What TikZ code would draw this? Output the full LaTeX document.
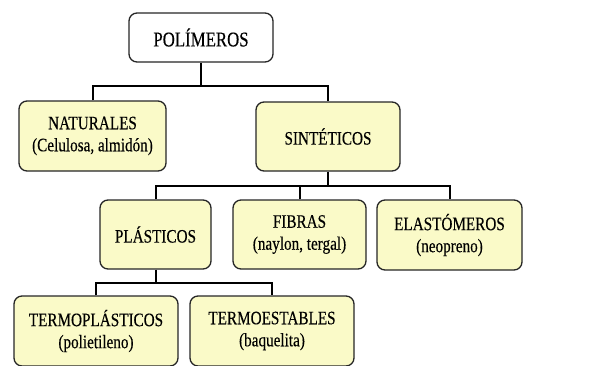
\documentclass[tikz,border=0pt]{standalone}
\usepackage{fontspec}
\setmainfont[FakeStretch=0.8,FakeBold=0.3]{Liberation Serif}
\definecolor{boxfill}{RGB}{250,250,200}
\begin{document}
\begin{tikzpicture}[x=1pt,y=-1pt,
  box/.style={draw=black!85,line width=1.3pt,rounded corners=8pt,fill=boxfill,
    inner sep=0pt,align=center,font=\fontsize{19}{22}\selectfont},
  rootbox/.style={box,fill=white,font=\fontsize{21}{24}\selectfont},
  link/.style={draw=black,line width=2pt}]
\useasboundingbox (0,0) rectangle (605,365);
\clip (0,0) rectangle (605,365);
\node[rootbox,minimum width=144pt,minimum height=49pt] (root) at (201,37.5) {POLÍMEROS};
\node[box,minimum width=147pt,minimum height=70pt] (nat) at (92.5,136) {NATURALES\\(Celulosa, almidón)};
\node[box,minimum width=144pt,minimum height=69pt] (sin) at (328,136.5) {SINTÉTICOS};
\node[box,minimum width=111pt,minimum height=69pt] (pla) at (155.5,234.5) {PLÁSTICOS};
\node[box,minimum width=133pt,minimum height=69pt] (fib) at (299.5,234.5) {FIBRAS\\(naylon, tergal)};
\node[box,minimum width=145pt,minimum height=70pt] (ela) at (449.5,235) {ELASTÓMEROS\\(neopreno)};
\node[box,minimum width=164pt,minimum height=70pt] (tpl) at (96,331) {TERMOPLÁSTICOS\\(polietileno)};
\node[box,minimum width=164pt,minimum height=70pt] (tes) at (272,331) {TERMOESTABLES\\(baquelita)};
\coordinate (j1) at (201,86);
\coordinate (j2) at (328,186);
\coordinate (j3) at (155.5,283);
\draw[link] (root.south) -- (j1);
\draw[link] (nat.north) |- (j1) -| (sin.north);
\draw[link] (sin.south) -- (j2);
\draw[link] (pla.north) |- (j2) -| (ela.north);
\draw[link] (fib.north) -- (fib.north |- j2);
\draw[link] (pla.south) -- (j3);
\draw[link] (tpl.north) |- (j3) -| (tes.north);
\end{tikzpicture}
\end{document}
